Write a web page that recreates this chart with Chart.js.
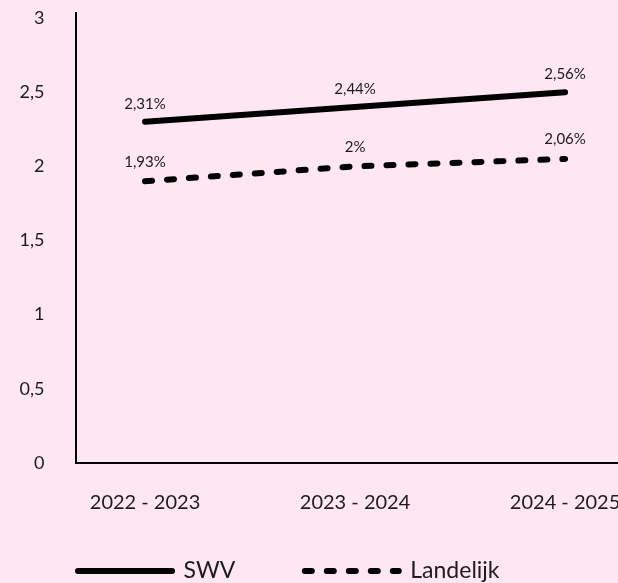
<!DOCTYPE html>
<html>
<head>
<meta charset="utf-8">
<script src="https://cdn.jsdelivr.net/npm/chart.js@4"></script>
<style>
  html, body { margin: 0; padding: 0; background: #fee6f2; }
  #wrap { width: 618px; height: 583px; position: relative; }
</style>
</head>
<body>
<div id="wrap"><canvas id="myChart"></canvas></div>
<script>
const categories = ['2022 - 2023', '2023 - 2024', '2024 - 2025'];
const swvValues = [2.3, 2.4, 2.5];
const swvLabels = ['2,31%', '2,44%', '2,56%'];
const landelijkValues = [1.9, 2.0, 2.05];
const landelijkLabels = ['1,93%', '2%', '2,06%'];
const yTicks = [0, 0.5, 1, 1.5, 2, 2.5, 3];

const textColor = '#1c1c1c';

// small labels above each point
const valueLabels = {
  id: 'valueLabels',
  afterDatasetsDraw(chart) {
    const c = chart.ctx;
    c.save();
    c.font = '15px Lato';
    c.fillStyle = textColor;
    c.textAlign = 'center';
    c.textBaseline = 'middle';
    chart.data.datasets.forEach((ds, i) => {
      chart.getDatasetMeta(i).data.forEach((pt, j) => {
        c.fillText(ds.valueText[j], pt.x, pt.y - ds.labelOffset);
      });
    });
    c.restore();
  }
};

function noPad(s) {
  s.paddingTop = 0; s.paddingBottom = 0; s.paddingLeft = 0; s.paddingRight = 0;
}

const data = {
  datasets: [{
    label: 'SWV',
    data: swvValues.map((v, i) => ({x: i, y: v})),
    valueText: swvLabels,
    labelOffset: 18,
    borderColor: '#000',
    backgroundColor: '#000',
    borderWidth: 6,
    borderCapStyle: 'round',
    borderJoinStyle: 'round',
    pointRadius: 0,
    tension: 0
  }, {
    label: 'Landelijk',
    data: landelijkValues.map((v, i) => ({x: i, y: v})),
    valueText: landelijkLabels,
    labelOffset: 19.5,
    borderColor: '#000',
    backgroundColor: '#000',
    borderWidth: 6,
    borderDash: [7, 15],
    borderCapStyle: 'round',
    borderJoinStyle: 'round',
    pointRadius: 0,
    tension: 0
  }]
};

const config = {
  type: 'line',
  data,
  options: {
    responsive: true,
    maintainAspectRatio: false,
    animation: false,
    events: [],
    layout: { padding: { left: 8.5, top: 13, right: 0, bottom: 0 } },
    plugins: {
      tooltip: { enabled: false },
      legend: {
        position: 'bottom',
        align: 'start',
        maxHeight: 93,
        labels: {
          usePointStyle: true,
          pointStyle: 'line',
          pointStyleWidth: 94,
          padding: 69.5,
          color: textColor,
          font: { family: 'Lato', size: 23 },
          generateLabels: chart => {
            const items = Chart.defaults.plugins.legend.labels.generateLabels(chart);
            items.forEach(it => {
              const ds = chart.data.datasets[it.datasetIndex];
              it.lineDash = ds.borderDash || [];
              it.lineCap = 'round';
              it.lineWidth = ds.borderWidth;
              it.strokeStyle = ds.borderColor;
            });
            return items;
          }
        }
      }
    },
    scales: {
      x: {
        type: 'linear',
        min: -0.331,
        max: 2.252,
        grid: { display: false, drawTicks: false },
        border: { color: '#000', width: 2 },
        afterBuildTicks: s => { s.ticks = categories.map((c, i) => ({value: i})); },
        ticks: {
          callback: v => categories[v],
          color: textColor,
          font: { family: 'Lato', size: 20 },
          mirror: true,
          padding: -52,
          maxRotation: 0,
          autoSkip: false
        },
        afterFit: s => { s.height = 27; noPad(s); }
      },
      y: {
        min: 0,
        max: 3.034,
        grid: { display: false, drawTicks: false },
        border: { color: '#000', width: 2 },
        afterBuildTicks: s => { s.ticks = yTicks.map(v => ({value: v})); },
        ticks: {
          callback: v => String(v).replace('.', ','),
          color: textColor,
          font: { family: 'Lato', size: 18 },
          padding: 31
        },
        afterFit: s => { s.width = 67; noPad(s); }
      }
    }
  },
  plugins: [valueLabels]
};

const myChart = new Chart(document.getElementById('myChart'), config);
</script>
</body>
</html>
